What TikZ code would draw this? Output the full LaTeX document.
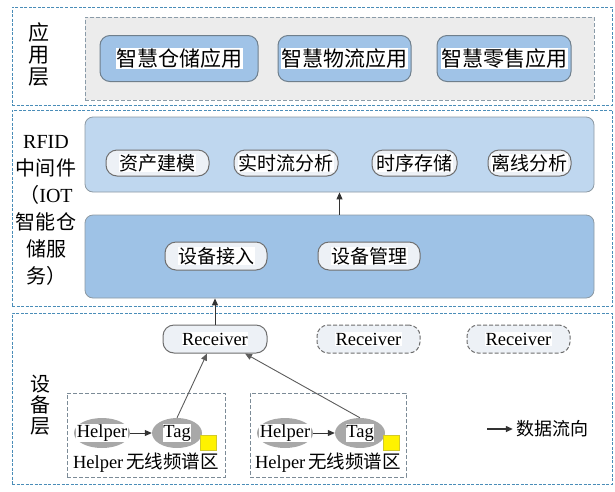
\documentclass[tikz,border=0pt]{standalone}
\usepackage{fontspec}
\setmainfont{Liberation Serif}
\newfontfamily\cjk{Noto Sans CJK SC}
\usetikzlibrary{arrows.meta,calc,shapes.geometric}
\definecolor{layerc}{HTML}{4A8DB8}
\definecolor{grayfill}{HTML}{ECECEC}
\definecolor{grayborder}{HTML}{8A9BA8}
\definecolor{appfill}{HTML}{A0C3E7}
\definecolor{boxborder}{HTML}{6F7F8C}
\definecolor{upfill}{HTML}{BFD7EF}
\definecolor{lowfill}{HTML}{9EC2E6}
\definecolor{chipfill}{HTML}{EDF1F6}
\definecolor{chipborder}{HTML}{6E6E6E}
\definecolor{ellfill}{HTML}{A8A8A8}
\definecolor{arrowc}{HTML}{333333}
\begin{document}
\begin{tikzpicture}[x=1pt,y=-1pt,
  layerbox/.style={draw=layerc, line width=0.8pt, dash pattern=on 3pt off 1.5pt},
  graybox/.style={draw=grayborder, fill=grayfill, line width=1pt, dash pattern=on 4pt off 2pt},
  appbox/.style={draw=boxborder, fill=appfill, rounded corners=10pt, line width=1pt},
  midbox/.style={draw=boxborder!80, rounded corners=8pt, line width=0.8pt},
  chip/.style={draw=chipborder, fill=chipfill, rounded corners=11pt, line width=1pt},
  dchip/.style={chip, dash pattern=on 4pt off 2pt},
  zone/.style={draw=grayborder!90!black, line width=1pt, dash pattern=on 4pt off 2pt},
  wtxt/.style={fill=white, inner sep=0.5pt},
  ell/.style={ellipse, fill=ellfill, draw=none},
  flow/.style={draw=arrowc, line width=1pt, -{Triangle[length=7pt,width=6pt]}},
  lbl/.style={align=center, inner sep=0pt}
]
\useasboundingbox (0,0) rectangle (615,491);

% ---------- application layer
\node[layerbox, minimum width=600, minimum height=98, inner sep=0] (applayer) at (312,56) {};
\node[graybox, minimum width=509, minimum height=83, inner sep=0] (appinner) at (339.5,58.5) {};
\node[lbl, font=\cjk\fontsize{21}{22}\selectfont] (applbl) at (39,55) {应\\用\\层};
\node[appbox, minimum width=158, minimum height=46, inner sep=0] (a1) at (179,58.5) {};
\node[appbox, minimum width=133, minimum height=46, inner sep=0] (a2) at (344.5,58.5) {};
\node[appbox, minimum width=134, minimum height=46, inner sep=0] (a3) at (504,58.5) {};
\node[wtxt, font=\cjk\fontsize{21}{24}\selectfont] (a1t) at (a1.center) {智慧仓储应用};
\node[wtxt, font=\cjk\fontsize{21}{24}\selectfont] (a2t) at (a2.center) {智慧物流应用};
\node[wtxt, font=\cjk\fontsize{21}{24}\selectfont] (a3t) at (a3.center) {智慧零售应用};

% ---------- middleware layer
\node[layerbox, minimum width=600, minimum height=196, inner sep=0] (midlayer) at (312,208) {};
\node[lbl, font=\fontsize{20}{27}\selectfont] (midlbl) at (46,210)
  {RFID\\{\cjk 中间件}\\{\cjk （}IOT\\{\cjk 智能仓}\\{\cjk 储服}\\{\cjk 务）}};
\node[midbox, fill=upfill, minimum width=509, minimum height=75, inner sep=0] (upper) at (339.5,154.5) {};
\node[midbox, fill=lowfill, minimum width=509, minimum height=83, inner sep=0] (lower) at (339.5,256.5) {};
\node[chip, minimum width=103, minimum height=26, inner sep=0] (c1) at (157.5,163) {};
\node[chip, minimum width=104, minimum height=26, inner sep=0] (c2) at (286,163) {};
\node[chip, minimum width=85, minimum height=26, inner sep=0] (c3) at (414.5,163) {};
\node[chip, minimum width=83, minimum height=26, inner sep=0] (c4) at (529.5,163) {};
\node[wtxt, font=\cjk\fontsize{19}{22}\selectfont] (c1t) at (c1.center) {资产建模};
\node[wtxt, font=\cjk\fontsize{19}{22}\selectfont] (c2t) at (c2.center) {实时流分析};
\node[wtxt, font=\cjk\fontsize{19}{22}\selectfont] (c3t) at (c3.center) {时序存储};
\node[wtxt, font=\cjk\fontsize{19}{22}\selectfont] (c4t) at (c4.center) {离线分析};
\node[chip, minimum width=102, minimum height=28, inner sep=0] (d1) at (216,256) {};
\node[chip, minimum width=102, minimum height=28, inner sep=0] (d2) at (369,256) {};
\node[wtxt, font=\cjk\fontsize{19}{22}\selectfont] (d1t) at (d1.center) {设备接入};
\node[wtxt, font=\cjk\fontsize{19}{22}\selectfont] (d2t) at (d2.center) {设备管理};
\draw[flow] (lower.north) -- (upper.south);

% ---------- device layer
\node[layerbox, minimum width=600, minimum height=171, inner sep=0] (devlayer) at (312,398.5) {};
\node[lbl, font=\cjk\fontsize{20}{21}\selectfont] (devlbl) at (40,405) {设\\备\\层};
\node[chip, minimum width=104, minimum height=28, inner sep=0] (r1) at (215,339) {};
\node[dchip, minimum width=103, minimum height=28, inner sep=0] (r2) at (368.5,339) {};
\node[dchip, minimum width=103, minimum height=28, inner sep=0] (r3) at (518.5,339) {};
\node[wtxt, font=\fontsize{18.5}{20}\selectfont] (r1t) at (r1.center) {Receiver};
\node[wtxt, font=\fontsize{18.5}{20}\selectfont] (r2t) at (r2.center) {Receiver};
\node[wtxt, font=\fontsize{18.5}{20}\selectfont] (r3t) at (r3.center) {Receiver};
\draw[flow] (r1.north) -- (r1.north |- lower.south);

% zones
\node[zone, minimum width=158, minimum height=84, inner sep=0] (z1) at (146,435) {};
\node[zone, minimum width=156, minimum height=84, inner sep=0] (z2) at (328,435) {};
\node[ell, minimum width=56, minimum height=30] (h1) at (102,433) {};
\node[ell, minimum width=50, minimum height=30] (t1) at (177,433) {};
\node[ell, minimum width=56, minimum height=30] (h2) at (285,433) {};
\node[ell, minimum width=50, minimum height=30] (t2) at (360,433) {};
\node[wtxt, font=\fontsize{18.5}{20}\selectfont] (h1t) at (h1.center) {Helper};
\node[wtxt, font=\fontsize{18.5}{20}\selectfont] (t1t) at (t1.center) {Tag};
\node[wtxt, font=\fontsize{18.5}{20}\selectfont] (h2t) at (h2.center) {Helper};
\node[wtxt, font=\fontsize{18.5}{20}\selectfont] (t2t) at (t2.center) {Tag};
\node[fill=yellow, draw=yellow!80!black, line width=0.4pt, minimum width=16, minimum height=15, inner sep=0] (y1) at (208,442.5) {};
\node[fill=yellow, draw=yellow!80!black, line width=0.4pt, minimum width=16, minimum height=15, inner sep=0] (y2) at (391,442.5) {};
\node[inner sep=0, font=\fontsize{18.5}{20}\selectfont] (z1t) at (146,463) {Helper\,{\cjk 无线频谱区}};
\node[inner sep=0, font=\fontsize{18.5}{20}\selectfont] (z2t) at (328,463) {Helper\,{\cjk 无线频谱区}};
\draw[flow] (h1.east) -- (t1.west);
\draw[flow] (h2.east) -- (t2.west);
\draw[flow, draw=arrowc!80, line width=0.9pt] (t1.north) -- ($(r1.south)+(-8,0)$);
\draw[flow, draw=arrowc!80, line width=0.9pt] (t2.north) -- ($(r1.south)+(30,0)$);

% legend
\node[inner sep=0, font=\cjk\fontsize{18}{20}\selectfont] (leg) at (552,429) {数据流向};
\coordinate (legs) at (487,429);
\draw[flow, line width=1.3pt] (legs) -- ($(leg.west)+(-3,0)$);
\end{tikzpicture}
\end{document}
